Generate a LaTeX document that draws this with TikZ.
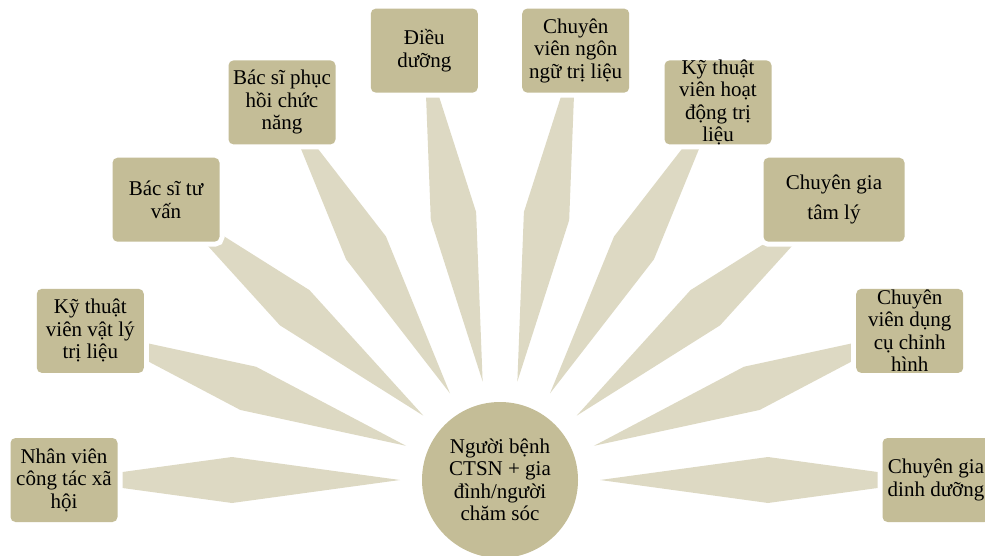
\documentclass[tikz,border=0pt]{standalone}
\usepackage{fontspec}
\setmainfont{Liberation Serif}
\usetikzlibrary{calc,backgrounds}
\definecolor{boxc}{HTML}{C4BD97}
\definecolor{linkc}{HTML}{DDD9C3}
\tikzset{
  member/.style={fill=boxc, rounded corners=5pt, minimum width=107pt,
    minimum height=84pt, inner sep=0pt,
    preaction={draw=white, line width=10pt}},
  wide/.style={minimum width=141pt},
  txt/.style={align=center, inner sep=0pt, text=black,
    font=\fontsize{21}{22.5}\selectfont},
  hub/.style={circle, fill=boxc, minimum size=156pt, inner sep=0pt},
  link/.style={fill=linkc}
}
\begin{document}
\begin{tikzpicture}[x=1pt,y=1pt]
\useasboundingbox (0,0) rectangle (985,555);
\clip (0,0) rectangle (985,555);
\coordinate (C) at (500,75);
\node[hub] (hub) at (C) {};
\node[txt] (hubt) at (hub.center) {Người bệnh\\CTSN + gia\\đình/người\\chăm sóc};

\node[member] (b1) at ($(C)+(180:436)$) {};
\node[member] (b2) at ($(C)+(160:436)$) {};
\node[member] (b3) at ($(C)+(140:436)$) {};
\node[member] (b4) at ($(C)+(120:436)$) {};
\node[member] (b5) at ($(C)+(100:436)$) {};
\node[member] (b6) at ($(C)+(80:436)$) {};
\node[member] (b7) at ($(C)+(60:436)$) {};
\node[member,wide] (b8) at ($(C)+(40:436)$) {};
\node[member] (b9) at ($(C)+(20:436)$) {};
\node[member] (b10) at ($(C)+(0:436)$) {};

\node[txt] (t1) at (b1) {Nhân viên\\công tác xã\\hội};
\node[txt] (t2) at (b2) {Kỹ thuật\\viên vật lý\\trị liệu};
\node[txt] (t3) at (b3) {Bác sĩ tư\\vấn};
\node[txt] (t4) at (b4) {Bác sĩ phục\\hồi chức\\năng};
\node[txt] (t5) at (b5) {Điều\\dưỡng};
\node[txt] (t6) at (b6) {Chuyên\\viên ngôn\\ngữ trị liệu};
\node[txt] (t7) at (b7) {Kỹ thuật\\viên hoạt\\động trị\\liệu};
\node[txt] (t8) at (b8) {Chuyên gia\\[7.5pt]tâm lý};
\node[txt] (t9) at (b9) {Chuyên\\viên dụng\\cụ chỉnh\\hình};
\node[txt] (t10) at (b10) {Chuyên gia\\dinh dưỡng};

\begin{scope}[on background layer]
\foreach \i in {1,...,10} {
  \path ($(hub.center)!100pt!(b\i.center)$) coordinate (p\i)
        ($(p\i)!0.5!(b\i.center)$) coordinate (m\i);
  \fill[link] (p\i) -- ($(m\i)!23pt!90:(b\i.center)$) -- (b\i.center)
     -- ($(m\i)!23pt!-90:(b\i.center)$) -- cycle;
}
\end{scope}
\end{tikzpicture}
\end{document}
